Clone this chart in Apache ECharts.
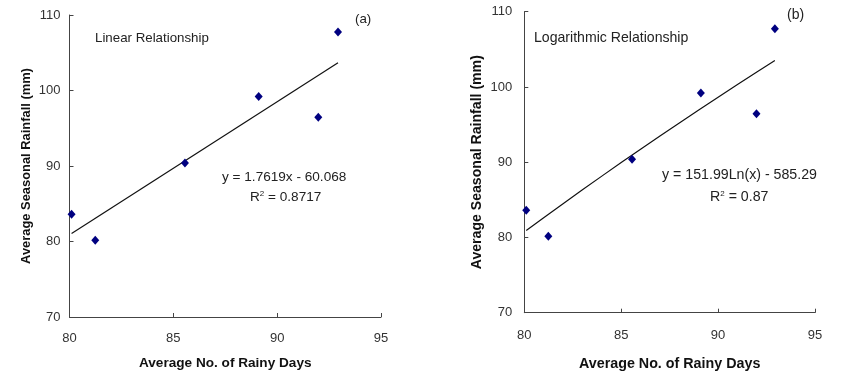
<!DOCTYPE html>
<html><head><meta charset="utf-8">
<script src="https://cdn.jsdelivr.net/npm/echarts@6/dist/echarts.min.js"></script>
<style>html,body{margin:0;padding:0;background:#fff}#c{width:855px;height:373px}</style>
</head><body><div id="c"></div>
<script>
// Observed points (both panels use the same data)
const rainyDays = [80.1, 81.24, 85.56, 89.11, 91.98, 92.93];
const rainfall  = [83.6, 80.15, 90.4, 99.2, 96.45, 107.75];
// Linear trendline endpoints
const linX = [80.1, 92.93];
const linY = [81.06, 103.67];
// Logarithmic trendline
const logX = [80.1, 81, 82, 83, 84, 85, 86, 87, 88, 89, 90, 91, 92, 92.93];
const logY = [80.93, 82.63, 84.49, 86.33, 88.15, 89.95, 91.73, 93.49, 95.22, 96.94, 98.64, 100.32, 101.98, 103.51];
const xTicks = [80, 85, 90, 95];
const yTicks = [70, 80, 90, 100, 110];

const F = 'Liberation Sans, Arial, sans-serif';
const zip = (a, b) => a.map((v, i) => [v, b[i]]);

function xAxis(gi, gap, fs, lm){ return {
  type:'value', gridIndex:gi, min:xTicks[0], max:xTicks[xTicks.length-1], interval:5,
  name:'Average No. of Rainy Days', nameLocation:'middle', nameGap:gap,
  nameTextStyle:{fontFamily:F, fontSize:fs, fontWeight:'bold', color:'#111'},
  axisLine:{lineStyle:{color:'#444', width:1}},
  axisTick:{inside:true, length:4, lineStyle:{color:'#444'}},
  axisLabel:{fontFamily:F, fontSize:13, color:'#333', margin:lm},
  splitLine:{show:false}
};}
function yAxis(gi, gap, fs, lm){ return {
  type:'value', gridIndex:gi, min:yTicks[0], max:yTicks[yTicks.length-1], interval:10,
  name:'Average Seasonal Rainfall (mm)', nameLocation:'middle', nameGap:gap, nameRotate:90,
  nameTextStyle:{fontFamily:F, fontSize:fs, fontWeight:'bold', color:'#111'},
  axisLine:{show:true, lineStyle:{color:'#444', width:1}},
  axisTick:{show:true, inside:true, length:4, lineStyle:{color:'#444'}},
  axisLabel:{fontFamily:F, fontSize:13, color:'#333', margin:lm},
  splitLine:{show:false}
};}

const chart = echarts.init(document.getElementById('c'), null, {renderer:'canvas'});
const txt = (left, top, text, size) => ({
  type:'text', left, top,
  style:{text, fontFamily:F, fontSize:size||13, fill:'#222'}
});
const r2 = (left, top, val, size) => ({
  type:'text', left, top,
  style:{rich:{a:{fontFamily:F,fontSize:size,fill:'#222'},s:{fontFamily:F,fontSize:8,fill:'#222',verticalAlign:'top',padding:[0,0,7,0]}},
         text:'{a|R}{s|2}{a| = ' + val + '}'}
});
chart.setOption({
  animation:false,
  backgroundColor:'#fff',
  grid:[
    {left:69.5, top:15, width:311.5, height:302, containLabel:false, outerBoundsMode:'none'},
    {left:524.3, top:11.7, width:290.7, height:301, containLabel:false, outerBoundsMode:'none'}
  ],
  xAxis:[xAxis(0, 39, 13.6, 15), xAxis(1, 44, 14.3, 16)],
  yAxis:[yAxis(0, 37, 12.9, 9), yAxis(1, 40, 14.1, 12)],
  series:[
    {type:'line', xAxisIndex:0, yAxisIndex:0, data:zip(linX, linY), showSymbol:false, symbol:'none',
     lineStyle:{color:'#111', width:1.2}, z:2},
    {type:'scatter', xAxisIndex:0, yAxisIndex:0, data:zip(rainyDays, rainfall), symbol:'diamond', symbolSize:[8,9],
     itemStyle:{color:'#000080', opacity:1}, z:3},
    {type:'line', xAxisIndex:1, yAxisIndex:1, data:zip(logX, logY), showSymbol:false, symbol:'none',
     lineStyle:{color:'#111', width:1.2}, z:2},
    {type:'scatter', xAxisIndex:1, yAxisIndex:1, data:zip(rainyDays, rainfall), symbol:'diamond', symbolSize:[8,9],
     itemStyle:{color:'#000080', opacity:1}, z:3}
  ],
  graphic:[
    txt(95, 32, 'Linear Relationship', 13.3),
    txt(355, 13, '(a)', 13.3),
    txt(222, 170, 'y = 1.7619x - 60.068', 13.6),
    r2(250, 190, '0.8717', 13.6),
    txt(534, 31, 'Logarithmic Relationship', 14.1),
    txt(787, 8, '(b)', 14),
    txt(662, 168, 'y = 151.99Ln(x) - 585.29', 14.2),
    r2(710, 190, '0.87', 14.2)
  ]
});
</script></body></html>
